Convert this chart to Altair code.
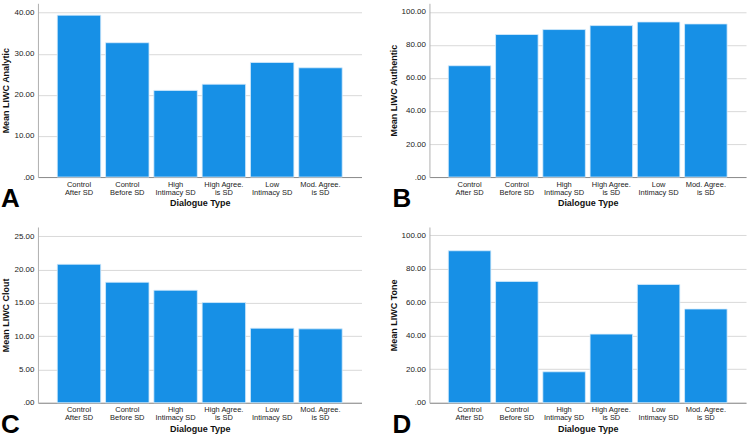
import altair as alt
import pandas as pd

# Dialogue types on the x axis ("\n" marks the label line break)
categories = [
    "Control\nAfter SD",
    "Control\nBefore SD",
    "High\nIntimacy SD",
    "High Agree.\nis SD",
    "Low\nIntimacy SD",
    "Mod. Agree.\nis SD",
]

# Mean LIWC scores per dialogue type
analytic = [39.4, 32.7, 21.1, 22.6, 27.9, 26.6]
authentic = [67.4, 86.3, 89.3, 91.7, 93.9, 92.7]
clout = [20.8, 18.1, 16.9, 15.05, 11.2, 11.1]
tone = [90.8, 72.5, 18.5, 41.0, 70.7, 56.0]

ticks_analytic = [0, 10, 20, 30, 40]
ticks_authentic = [0, 20, 40, 60, 80, 100]
ticks_clout = [0, 5, 10, 15, 20, 25]
ticks_tone = [0, 20, 40, 60, 80, 100]

BLUE = "#1790e6"
FONT = "Liberation Sans"


def panel(values, ytitle, ymax, ticks, letter, w, h):
    df = pd.DataFrame({"type": categories, "mean": values})
    bars = alt.Chart(df).mark_bar(
        color=BLUE, stroke="#d8ecfb", strokeWidth=0.8
    ).encode(
        x=alt.X(
            "type:N",
            sort=categories,
            title="Dialogue Type",
            scale=alt.Scale(paddingInner=0.1, paddingOuter=0.4),
            axis=alt.Axis(
                labelAngle=0,
                labelExpr="split(datum.label, '\\n')",
                labelFontSize=7.5,
                labelLineHeight=8,
                labelPadding=3,
                labelColor="#222222",
                labelFont=FONT,
                ticks=False,
                domainColor="#8c8c8c",
                titleFont=FONT,
                titleFontSize=9,
                titleFontWeight="bold",
                titlePadding=3,
                titleColor="#111111",
            ),
        ),
        y=alt.Y(
            "mean:Q",
            title=ytitle,
            scale=alt.Scale(domain=[0, ymax], nice=False, zero=True),
            axis=alt.Axis(
                values=ticks,
                labelExpr="datum.value == 0 ? '.00' : format(datum.value, '.2f')",
                labelFontSize=8,
                labelColor="#222222",
                labelFont=FONT,
                labelPadding=4,
                ticks=False,
                grid=True,
                gridColor="#d9d9d9",
                gridWidth=1,
                domainColor="#b0b0b0",
                titleFont=FONT,
                titleFontSize=9,
                titleFontWeight="bold",
                titlePadding=3,
                titleColor="#111111",
            ),
        ),
    )
    tag = alt.Chart(pd.DataFrame({"panel": [letter]})).mark_text(
        align="left",
        baseline="alphabetic",
        font=FONT,
        fontSize=26,
        fontWeight="bold",
        color="#000000",
    ).encode(
        text="panel:N",
        x=alt.value(-37),
        y=alt.value(h + 30),
    )
    return alt.layer(bars, tag).properties(width=w, height=h)


a = panel(analytic, "Mean LIWC Analytic", 42.3, ticks_analytic, "A", 324, 174)
b = panel(authentic, "Mean LIWC Authentic", 105.2, ticks_authentic, "B", 317, 174)
c = panel(clout, "Mean LIWC Clout", 26.4, ticks_clout, "C", 324, 176)
d = panel(tone, "Mean LIWC Tone", 105.0, ticks_tone, "D", 317, 176)

chart = alt.concat(
    a, b, c, d,
    columns=2,
    bounds="flush",
    spacing={"column": 68, "row": 50},
).properties(
    padding={"left": 0, "top": 2, "right": 0, "bottom": 0},
    background="white",
).configure_view(stroke="transparent")

chart.save("out.html", embed_options={"renderer": "svg", "actions": False})
